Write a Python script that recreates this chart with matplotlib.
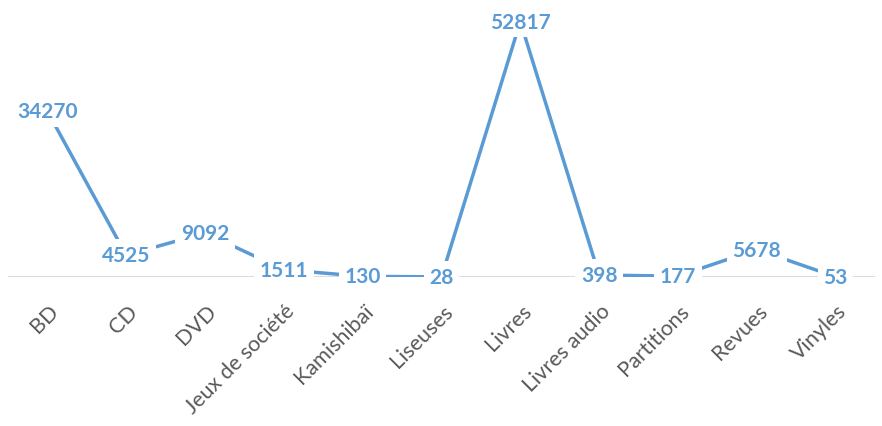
import numpy as np
import matplotlib.pyplot as plt
from matplotlib.transforms import ScaledTranslation

categories = ["BD", "CD", "DVD", "Jeux de société", "Kamishibaï", "Liseuses",
              "Livres", "Livres audio", "Partitions", "Revues", "Vinyles"]
values = [34270, 4525, 9092, 1511, 130, 28, 52817, 398, 177, 5678, 53]

blue = "#5b9bd5"
grey_text = "#595959"

fig = plt.figure(figsize=(8.82, 4.27), dpi=100)
ax = fig.add_axes([8 / 882, 149 / 427, 867 / 882, 266 / 427])

x = np.arange(len(categories))
ax.plot(x, values, color=blue, lw=2.5, solid_capstyle="butt", zorder=3)
ax.axhline(0, color="#d9d9d9", lw=1.3, zorder=1)

for xi, v in zip(x, values):
    ax.text(xi, v, str(v), ha="center", va="center", color=blue,
            fontsize=15, fontweight="bold", family=["Lato", "DejaVu Sans"],
            bbox=dict(facecolor="white", edgecolor="none", pad=4),
            zorder=4, clip_on=False)

ax.set_xlim(-0.5, len(categories) - 0.5)
ax.set_ylim(0, 55000)
ax.set_yticks([])
ax.set_xticks(x)
ax.set_xticklabels(categories, rotation=45, ha="right", va="center",
                   rotation_mode="anchor", color=grey_text, fontsize=15.5,
                   family=["Lato", "DejaVu Sans"])
ax.tick_params(axis="x", length=0, pad=22)
offset = ScaledTranslation(8 / 100, 0, fig.dpi_scale_trans)
for lbl in ax.get_xticklabels():
    lbl.set_transform(lbl.get_transform() + offset)
for s in ax.spines.values():
    s.set_visible(False)

fig.savefig("out.png", dpi=100)
